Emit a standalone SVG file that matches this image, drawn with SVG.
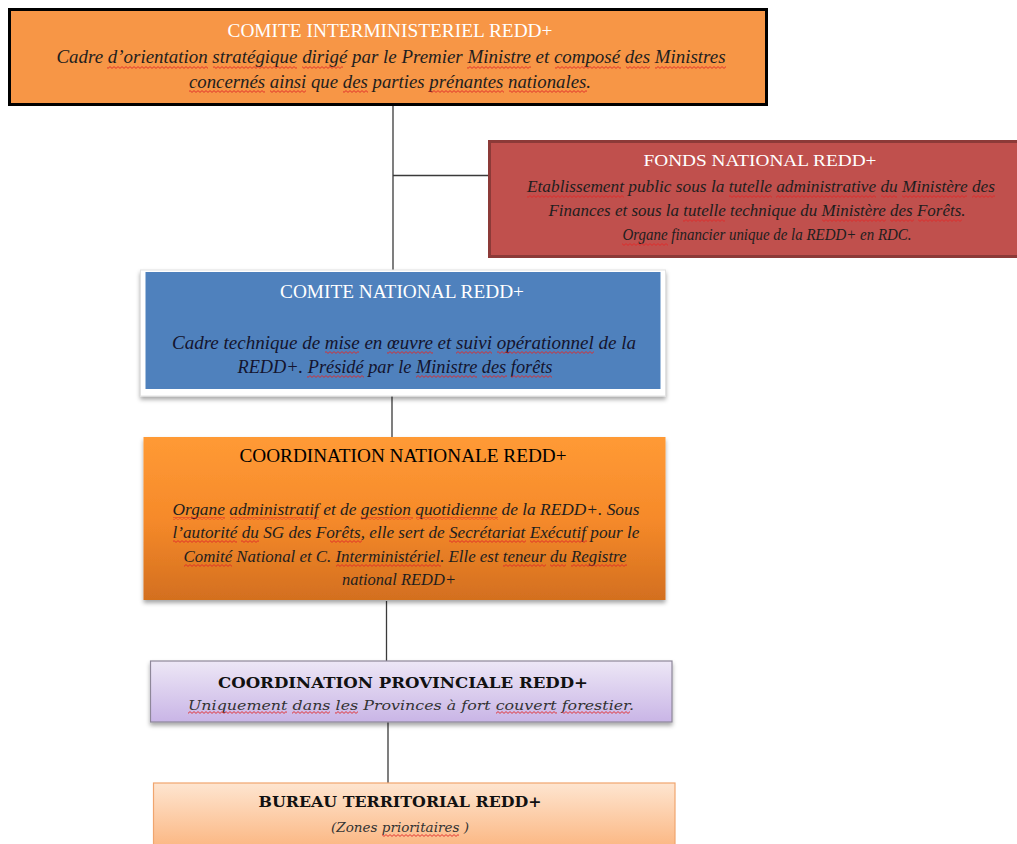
<svg xmlns="http://www.w3.org/2000/svg" width="1017" height="844" viewBox="0 0 1017 844">
<style>
.t{font-family:"Liberation Serif","Times New Roman",serif;font-size:18px;text-anchor:middle}
.s{font-size:16.5px}
.m{font-size:17px}
.i{font-style:italic}
.w{fill:#ffffff}
.d{fill:#1e1e1e}
.n{fill:#14142e}
.k{fill:#000000}
.b{font-family:"DejaVu Serif","Liberation Serif",serif;font-size:15.5px;font-weight:bold;text-anchor:middle;fill:#111}
.bi{font-family:"DejaVu Serif","Liberation Serif",serif;font-size:13.5px;font-style:italic;text-anchor:middle;fill:#333}
.wv{fill:url(#wave)}
.con{stroke:#3a3a3a;stroke-width:1.3;fill:none}
</style>
<defs>
<pattern id="wave" x="0" y="0" width="4" height="3" patternUnits="userSpaceOnUse">
<path d="M0 2.4 L2 0.6 L4 2.4" fill="none" stroke="#e02828" stroke-width="0.9"/>
</pattern>
<linearGradient id="gOr" x1="0" y1="0" x2="0" y2="1">
<stop offset="0" stop-color="#FF9A35"/><stop offset="0.5" stop-color="#F68A2A"/><stop offset="1" stop-color="#D36F1F"/>
</linearGradient>
<linearGradient id="gPu" x1="0" y1="0" x2="0" y2="1">
<stop offset="0" stop-color="#EDE7F6"/><stop offset="1" stop-color="#C9B5E6"/>
</linearGradient>
<linearGradient id="gPe" x1="0" y1="0" x2="0" y2="1">
<stop offset="0" stop-color="#FEE5D0"/><stop offset="1" stop-color="#FBB37C"/>
</linearGradient>
<filter id="sh" x="-5%" y="-10%" width="110%" height="130%">
<feDropShadow dx="0" dy="3" stdDeviation="2" flood-color="#000" flood-opacity="0.35"/>
</filter>
</defs>
<rect width="1017" height="844" fill="#ffffff"/>
<g id="connectors">
<line class="con" x1="393" y1="106" x2="393" y2="271"/>
<line class="con" x1="393" y1="175.5" x2="489" y2="175.5"/>
<line class="con" x1="392" y1="396" x2="392" y2="437"/>
<line class="con" x1="386.5" y1="601" x2="386.5" y2="661"/>
<line class="con" x1="388" y1="722" x2="388" y2="783"/>
</g>
<g id="comite-interministeriel">
<rect x="9.5" y="9.5" width="757" height="95" fill="#F79646" stroke="#000" stroke-width="3"/>
<text class="t w" x="390" y="37" textLength="325" lengthAdjust="spacingAndGlyphs">COMITE INTERMINISTERIEL REDD+</text>
<text class="t i d" x="391" y="63" textLength="669" lengthAdjust="spacingAndGlyphs">Cadre <tspan>d’orientation</tspan> <tspan>stratégique</tspan> <tspan>dirigé</tspan> par le Premier <tspan>Ministre</tspan> et <tspan>composé</tspan> <tspan>des</tspan> <tspan>Ministres</tspan></text>
<text class="t i d" x="390" y="88" textLength="402" lengthAdjust="spacingAndGlyphs"><tspan>concernés</tspan> <tspan>ainsi</tspan> que <tspan>des</tspan> parties <tspan>prénantes</tspan> <tspan>nationales</tspan>.</text>
<g class="wv">
<rect x="107" y="66" width="101" height="3"/><rect x="213" y="66" width="84" height="3"/><rect x="302" y="66" width="41" height="3"/>
<rect x="467" y="66" width="64" height="3"/><rect x="555" y="66" width="66" height="3"/><rect x="626" y="66" width="24" height="3"/><rect x="655" y="66" width="71" height="3"/>
<rect x="189" y="90" width="76" height="3"/><rect x="270" y="90" width="36" height="3"/><rect x="343" y="90" width="25" height="3"/><rect x="429" y="90" width="75" height="3"/><rect x="509" y="90" width="78" height="3"/>
</g>
</g>
<g id="fonds-national">
<rect x="489.5" y="141.5" width="532" height="115" fill="#C0504D" stroke="#8C3A38" stroke-width="3"/>
<text class="t s w" x="760" y="166" textLength="233" lengthAdjust="spacingAndGlyphs">FONDS NATIONAL REDD+</text>
<text class="t s i d" x="761" y="192" textLength="468" lengthAdjust="spacingAndGlyphs"><tspan>Etablissement</tspan> public sous la <tspan>tutelle</tspan> <tspan>administrative</tspan> <tspan>du</tspan> <tspan>Ministère</tspan> <tspan>des</tspan></text>
<text class="t s i d" x="757" y="216" textLength="417" lengthAdjust="spacingAndGlyphs">Finances et sous la <tspan>tutelle</tspan> technique du <tspan>Ministère</tspan> <tspan>des</tspan> <tspan>Forêts</tspan>.</text>
<text class="t s i d" x="767" y="240" textLength="289" lengthAdjust="spacingAndGlyphs"><tspan>Organe</tspan> financier unique de la REDD+ en RDC.</text>
<g class="wv">
<rect x="527" y="195" width="97" height="3"/><rect x="729" y="195" width="43" height="3"/><rect x="776" y="195" width="100" height="3"/><rect x="881" y="195" width="16" height="3"/><rect x="902" y="195" width="65" height="3"/><rect x="972" y="195" width="23" height="3"/>
<rect x="683" y="219" width="42" height="3"/><rect x="822" y="219" width="64" height="3"/><rect x="890" y="219" width="24" height="3"/><rect x="918" y="219" width="44" height="3"/>
<rect x="622" y="243" width="46" height="3"/>
</g>
</g>
<g id="comite-national">
<rect x="140.5" y="270" width="525" height="126" fill="#ffffff" stroke="#e2e2e2" stroke-width="1" filter="url(#sh)"/>
<rect x="145.5" y="272" width="515" height="117" fill="#4F81BD"/>
<text class="t w" x="402" y="298" textLength="244" lengthAdjust="spacingAndGlyphs">COMITE NATIONAL REDD+</text>
<text class="t i n" x="404" y="349" textLength="464" lengthAdjust="spacingAndGlyphs">Cadre technique de <tspan>mise</tspan> en <tspan>œuvre</tspan> et <tspan>suivi</tspan> <tspan>opérationnel</tspan> de la</text>
<text class="t i n" x="395" y="373" textLength="315" lengthAdjust="spacingAndGlyphs">REDD+. <tspan>Présidé</tspan> par le <tspan>Ministre</tspan> <tspan>des</tspan> <tspan>forêts</tspan></text>
<g class="wv">
<rect x="325" y="351" width="34" height="3"/><rect x="387" y="351" width="46" height="3"/><rect x="456" y="351" width="36" height="3"/><rect x="497" y="351" width="97" height="3"/>
<rect x="307" y="375" width="57" height="3"/><rect x="416" y="375" width="61" height="3"/><rect x="482" y="375" width="25" height="3"/><rect x="511" y="375" width="41" height="3"/>
</g>
</g>
<g id="coordination-nationale">
<rect x="143.5" y="437" width="522" height="163" fill="url(#gOr)" filter="url(#sh)"/>
<text class="t k" x="403" y="462" textLength="327" lengthAdjust="spacingAndGlyphs">COORDINATION NATIONALE REDD+</text>
<text class="t m i d" x="406" y="515" textLength="467" lengthAdjust="spacingAndGlyphs"><tspan>Organe</tspan> <tspan>administratif</tspan> et de <tspan>gestion</tspan> <tspan>quotidienne</tspan> de la REDD+. Sous</text>
<text class="t m i d" x="406" y="538" textLength="467" lengthAdjust="spacingAndGlyphs"><tspan>l’autorité</tspan> <tspan>du</tspan> SG des <tspan>Forêts</tspan>, elle sert de <tspan>Secrétariat</tspan> <tspan>Exécutif</tspan> pour le</text>
<text class="t m i d" x="405" y="562" textLength="443" lengthAdjust="spacingAndGlyphs"><tspan>Comité</tspan> National et C. <tspan>Interministériel</tspan>. Elle est <tspan>teneur</tspan> <tspan>du</tspan> <tspan>Registre</tspan></text>
<text class="t m i d" x="399" y="585" textLength="114" lengthAdjust="spacingAndGlyphs">national REDD+</text>
<g class="wv">
<rect x="173" y="517" width="52" height="3"/><rect x="230" y="517" width="89" height="3"/><rect x="361" y="517" width="52" height="3"/><rect x="416" y="517" width="82" height="3"/>
<rect x="173" y="540" width="64" height="3"/><rect x="241" y="540" width="18" height="3"/><rect x="330" y="540" width="32" height="3"/><rect x="449" y="540" width="77" height="3"/><rect x="530" y="540" width="57" height="3"/>
<rect x="184" y="564" width="48" height="3"/><rect x="336" y="564" width="105" height="3"/><rect x="503" y="564" width="43" height="3"/><rect x="550" y="564" width="16" height="3"/><rect x="571" y="564" width="56" height="3"/>
</g>
</g>
<g id="coordination-provinciale">
<rect x="150.5" y="661" width="521.5" height="61" fill="url(#gPu)" stroke="#8E8799" stroke-width="1.2" filter="url(#sh)"/>
<text class="b" x="403" y="688" textLength="370" lengthAdjust="spacingAndGlyphs">COORDINATION PROVINCIALE REDD+</text>
<text class="bi" x="411" y="710" textLength="446" lengthAdjust="spacingAndGlyphs"><tspan>Uniquement</tspan> <tspan>dans</tspan> <tspan>les</tspan> Provinces à fort <tspan>couvert</tspan> <tspan>forestier</tspan>.</text>
<g class="wv">
<rect x="188" y="711" width="99" height="3"/><rect x="292" y="711" width="38" height="3"/><rect x="335" y="711" width="23" height="3"/><rect x="496" y="711" width="61" height="3"/><rect x="562" y="711" width="68" height="3"/>
</g>
</g>
<g id="bureau-territorial">
<rect x="153.5" y="783" width="521.5" height="70" fill="url(#gPe)" stroke="#F0A56E" stroke-width="1.2"/>
<text class="b" x="400" y="807" textLength="283" lengthAdjust="spacingAndGlyphs">BUREAU TERRITORIAL REDD+</text>
<text class="bi" x="400" y="832" textLength="138" lengthAdjust="spacingAndGlyphs">(Zones <tspan>prioritaires</tspan> )</text>
<g class="wv">
<rect x="382" y="834" width="77" height="3"/>
</g>
</g>
</svg>
